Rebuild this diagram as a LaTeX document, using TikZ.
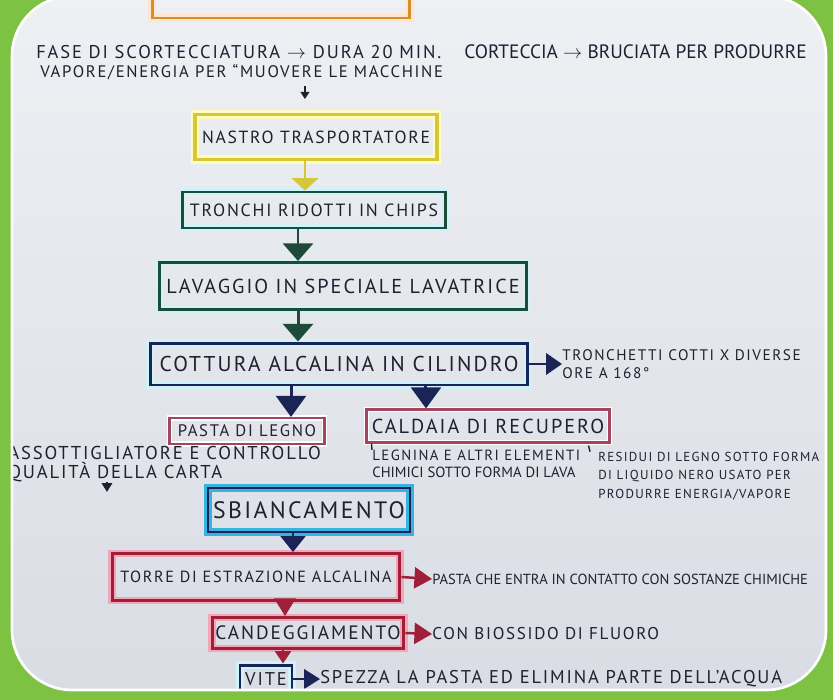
\documentclass[tikz,border=0pt]{standalone}
\usepackage{fontspec}
\setmainfont{PT Sans}[LetterSpace=10]
\newfontfamily\plainfont{PT Sans}
\usepackage{xcolor}
\usepackage{tikz}
\usetikzlibrary{arrows.meta}

\definecolor{framegreen}{HTML}{7DC243}
\definecolor{paperhi}{HTML}{EEF0F4}
\definecolor{paperlo}{HTML}{D9DCE3}
\definecolor{ink}{HTML}{1E2130}
\definecolor{orangeline}{HTML}{D2902F}
\definecolor{yellowline}{HTML}{D6C63A}
\definecolor{greenline}{HTML}{1E4A3A}
\definecolor{glowcyan}{HTML}{CFF3F8}
\definecolor{navyline}{HTML}{1B2456}
\definecolor{mauve}{HTML}{A3455E}
\definecolor{pinkglow}{HTML}{F3A6B8}
\definecolor{redline}{HTML}{9E1F38}
\definecolor{cyanline}{HTML}{36B3E0}

\begin{document}
\begin{tikzpicture}[x=0.02cm,y=-0.02cm]
	\useasboundingbox (0,0) rectangle (833,700);
	\fill[framegreen] (0,0) rectangle (833,700);
	\begin{scope}
	\clip[rounded corners=1.2cm] (12,-4) rectangle (826,690);
	\shade[top color=paperhi,bottom color=paperlo] (0,-10) rectangle (833,700);
	% boxes
	\tikzstyle{box}=[inner sep=0pt,line width=1.7pt,text=ink]
	\tikzstyle{orangebox}=[box,draw=orangeline,preaction={draw=orange!20,line width=4.5pt}]
	\tikzstyle{yellowbox}=[box,draw=yellowline,line width=2.2pt,preaction={draw=yellow!25,line width=5pt}]
	\tikzstyle{greenbox}=[box,draw=greenline,preaction={draw=glowcyan,line width=4.5pt}]
	\tikzstyle{navybox}=[box,draw=navyline,preaction={draw=glowcyan,line width=4.5pt}]
	\tikzstyle{mauvebox}=[box,draw=mauve,line width=1.2pt,preaction={draw=white,line width=3pt}]
	\tikzstyle{sbox}=[box,draw=navyline,line width=1.5pt,preaction={draw=cyanline,line width=4.5pt}]
	\tikzstyle{redbox}=[box,draw=redline,preaction={draw=pinkglow,line width=4.5pt}]
	\tikzstyle{note}=[anchor=west,align=left,inner sep=0pt,text=ink]
	\node[orangebox,minimum width=5.16cm,minimum height=1.2cm] (taglio) at (281,-12) {};
	\node[note,font=\fontsize{10.5}{12}\selectfont] (fase) at (36,52) {FASE DI SCORTECCIATURA $\rightarrow$ DURA 20 MIN.};
	\node[note,font=\plainfont\fontsize{11}{12}\selectfont] (corteccia) at (464,52) {CORTECCIA $\rightarrow$ BRUCIATA PER PRODURRE};
	\node[note,font=\fontsize{9.5}{12}\selectfont] (vapore) at (40,72) {VAPORE/ENERGIA PER ``MUOVERE LE MACCHINE};
	\node[yellowbox,minimum width=4.84cm,minimum height=0.9cm,font=\fontsize{10}{13}\selectfont] (nastro) at (316,137) {NASTRO TRASPORTATORE};
	\node[greenbox,minimum width=5.26cm,minimum height=0.72cm,font=\fontsize{10.1}{12}\selectfont] (chips) at (314,210) {TRONCHI RIDOTTI IN CHIPS};
	\node[greenbox,minimum width=7.34cm,minimum height=0.94cm,font=\fontsize{11.5}{14}\selectfont] (lavaggio) at (343,286) {LAVAGGIO IN SPECIALE LAVATRICE};
	\node[navybox,minimum width=7.56cm,minimum height=0.84cm,font=\fontsize{12.2}{14}\selectfont] (cottura) at (339,364) {COTTURA ALCALINA IN CILINDRO};
	\node[note,font=\fontsize{8.7}{10}\selectfont] (tronchetti) at (562,364) {TRONCHETTI COTTI X DIVERSE\\ORE A 168°};
	\node[mauvebox,minimum width=3.1cm,minimum height=0.52cm,font=\fontsize{9.5}{11}\selectfont] (pasta) at (247,431) {PASTA DI LEGNO};
	\node[mauvebox,minimum width=4.86cm,minimum height=0.66cm,font=\fontsize{11.5}{14}\selectfont] (caldaia) at (488,426) {CALDAIA DI RECUPERO};
	\node[note,font=\fontsize{10.6}{10.5}\selectfont] (assott) at (8,464) {ASSOTTIGLIATORE E CONTROLLO\\QUALITÀ DELLA CARTA};
	\node[note,font=\fontsize{8.4}{9.6}\selectfont] (legnina) at (372,464) {LEGNINA E ALTRI ELEMENTI\\{\plainfont CHIMICI SOTTO FORMA DI LAVA}};
	\node[note,font=\fontsize{7.4}{10.5}\selectfont] (residui) at (598,476) {RESIDUI DI LEGNO SOTTO FORMA\\DI LIQUIDO NERO USATO PER\\PRODURRE ENERGIA/VAPORE};
	\node[sbox,minimum width=4.04cm,minimum height=0.88cm,font=\fontsize{13.5}{17}\selectfont] (sbianc) at (309,510) {SBIANCAMENTO};
	\node[redbox,minimum width=5.76cm,minimum height=0.94cm,font=\fontsize{9.2}{12}\selectfont] (torre) at (256,577) {TORRE DI ESTRAZIONE ALCALINA};
	\node[note,font=\plainfont\fontsize{8.3}{12}\selectfont] (contatto) at (432,579) {PASTA CHE ENTRA IN CONTATTO CON SOSTANZE CHIMICHE};
	\node[redbox,minimum width=3.84cm,minimum height=0.62cm,font=\fontsize{11}{13}\selectfont] (cand) at (308,633) {CANDEGGIAMENTO};
	\node[note,font=\fontsize{9.7}{12}\selectfont] (biossido) at (432,634) {CON BIOSSIDO DI FLUORO};
	\node[navybox,minimum width=1.04cm,minimum height=0.56cm,font=\fontsize{10.5}{12}\selectfont] (vite) at (266,679) {VITE};
	\node[note,font=\fontsize{10.5}{12}\selectfont] (spezza) at (320,679) {SPEZZA LA PASTA ED ELIMINA PARTE DELL'ACQUA};
	% arrows
	\tikzstyle{bigarrow}=[line width=1.7pt,-{Triangle[width=17pt,length=10pt]}]
	\tikzstyle{redarrow}=[line width=1.4pt,draw=redline,-{Triangle[width=12pt,length=10pt]}]
	\draw[ink,line width=0.9pt,-{Triangle[width=5pt,length=4pt]}] ([xshift=5.3cm]vapore.south west) ++(0,6) -- ++(0,13);
	\draw[bigarrow,yellowline,-{Triangle[width=15pt,length=7pt]}] ([xshift=-0.22cm]nastro.south) -- ([xshift=-0.22cm]nastro.south |- chips.north);
	\draw[bigarrow,greenline] ([xshift=-0.32cm]chips.south) -- ([xshift=-0.32cm]chips.south |- lavaggio.north);
	\draw[bigarrow,greenline] ([xshift=-0.9cm]lavaggio.south) -- ([xshift=-0.9cm]lavaggio.south |- cottura.north);
	\draw[bigarrow,navyline,-{Triangle[width=12pt,length=9pt]}] (cottura.east) -- (tronchetti.west);
	\draw[bigarrow,navyline,-{Triangle[width=17pt,length=12pt]}] ([xshift=-0.96cm]cottura.south) -- ([xshift=-0.96cm]cottura.south |- pasta.north);
	\draw[bigarrow,navyline,-{Triangle[width=17pt,length=12pt]}] ([xshift=1.74cm]cottura.south) -- ([xshift=1.74cm]cottura.south |- caldaia.north);
	\draw[ink,line width=0.8pt] (caldaia.south west) ++(6,0) -- (legnina.north west);
	\draw[ink,line width=0.8pt] (caldaia.south east) ++(-22,2) -- ([xshift=-0.16cm]residui.north west);
	\draw[ink,line width=0.9pt,-{Triangle[width=6pt,length=5pt]}] ([xshift=1.98cm]assott.south west) -- ++(0,10);
	\draw[bigarrow,navyline,-{Triangle[width=14pt,length=9pt]}] ([xshift=-0.32cm]sbianc.south) -- ([xshift=-0.32cm]sbianc.south |- torre.north);
	\draw[redarrow] (torre.east) -- (contatto.west);
	\draw[redarrow] ([xshift=0.58cm]torre.south) -- ([xshift=0.58cm]torre.south |- cand.north);
	\draw[redarrow] (cand.east) -- (biossido.west);
	\draw[redarrow,-{Triangle[width=9pt,length=7pt]}] ([xshift=-0.5cm]cand.south) -- ([xshift=-0.5cm]cand.south |- vite.north);
	\draw[bigarrow,navyline,line width=1.4pt,-{Triangle[width=11pt,length=9pt]}] (vite.east) -- (spezza.west);
	\end{scope}
	\draw[white,line width=1.5pt,rounded corners=1.2cm] (12,-4) rectangle (826,690);
\end{tikzpicture}
\end{document}
